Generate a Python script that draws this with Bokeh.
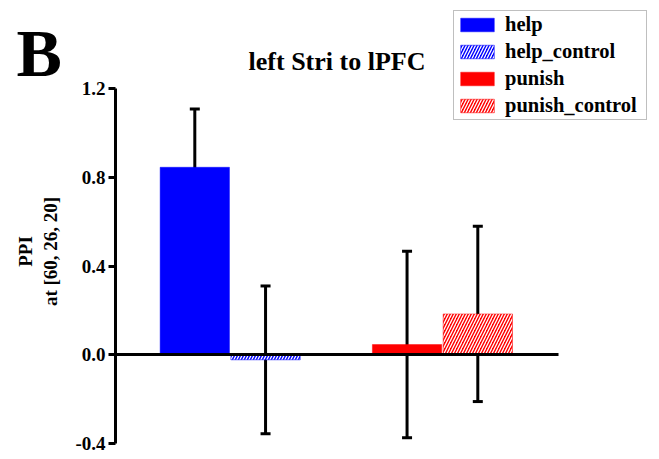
import math
from bokeh.plotting import figure
from bokeh.models import (ColumnDataSource, Whisker, TeeHead, Label, LinearAxis,
                          Range1d, FixedTicker, NumeralTickFormatter)
from bokeh.embed import file_html
from bokeh.resources import INLINE

# ---- data ----
categories = ["help", "help_control", "punish", "punish_control"]
group_index = [0, 0, 1, 1]
member_index = [0, 1, 0, 1]
values = [0.845, -0.023, 0.046, 0.184]
errors = [0.263, 0.333, 0.420, 0.395]
colors = ["#0000ff", "#0000ff", "#ff0000", "#ff0000"]
hatches = [" ", "/", " ", "/"]
y_ticks = [-0.4, 0.0, 0.4, 0.8, 1.2]
title_text = "left Stri to lPFC"
panel_letter = "B"
y_label_lines = ["PPI", "at [60, 26, 20]"]

FONT = "Liberation Serif"

xpos = [3 * g + m + 0.5 for g, m in zip(group_index, member_index)]
upper = [v + e for v, e in zip(values, errors)]
lower = [v - e for v, e in zip(values, errors)]

src = ColumnDataSource(dict(x=xpos, top=values, cat=categories, color=colors,
                            hatch=hatches, upper=upper, lower=lower))

W, H = 651, 459
AX_LEFT, AX_RIGHT = -0.6208, 5.6406

p = figure(width=W, height=H, output_backend="svg", toolbar_location=None,
           x_range=Range1d(-2.2463, 6.9551), y_range=Range1d(-0.47211, 1.59662),
           x_axis_type=None, y_axis_type=None, min_border=0)
p.outline_line_color = None
p.grid.visible = False
p.background_fill_color = "white"
p.border_fill_color = "white"

p.vbar(x="x", top="top", bottom=0, width=0.98, source=src,
       fill_color="color", line_color="color", line_alpha=0.45, line_width=1,
       hatch_pattern="hatch", hatch_color="white", hatch_scale=6, hatch_weight=1.3,
       legend_field="cat")

# zero line as an x axis without ticks
xax = LinearAxis(fixed_location=0, bounds=(AX_LEFT, AX_RIGHT),
                 ticker=FixedTicker(ticks=[]), axis_line_width=3,
                 major_tick_line_color=None, minor_tick_line_color=None,
                 major_label_text_font_size="0px")
p.add_layout(xax, "below")

w = Whisker(source=src, base="x", upper="upper", lower="lower",
            line_color="black", line_width=3,
            upper_head=TeeHead(size=10, line_width=3, line_color="black"),
            lower_head=TeeHead(size=10, line_width=3, line_color="black"))
p.add_layout(w)

ax = LinearAxis(fixed_location=AX_LEFT, bounds=(y_ticks[0], y_ticks[-1]))
ax.ticker = FixedTicker(ticks=y_ticks)
ax.formatter = NumeralTickFormatter(format="0.0")
ax.minor_tick_line_color = None
ax.axis_line_width = 3
ax.major_tick_line_width = 3
ax.major_tick_in = 0
ax.major_tick_out = 7
ax.major_label_standoff = 3
ax.major_label_text_font = FONT
ax.major_label_text_font_style = "bold"
ax.major_label_text_font_size = "19px"
ax.major_label_text_color = "black"
p.add_layout(ax, "left")

# y axis title (two rotated lines)
for line_text, sx in zip(y_label_lines, [25, 50]):
    p.add_layout(Label(x=sx, y=H - 251, x_units="screen", y_units="screen",
                       text=line_text, angle=math.pi / 2, text_align="center",
                       text_baseline="middle", text_color="black",
                       text_font=FONT, text_font_style="bold", text_font_size="19px"))

p.add_layout(Label(x=336.5, y=H - 61, x_units="screen", y_units="screen",
                   text=title_text, text_align="center", text_baseline="alphabetic",
                   text_color="black",
                   text_font=FONT, text_font_style="bold", text_font_size="26px"))
p.add_layout(Label(x=16, y=H - 52, x_units="screen", y_units="screen",
                   text=panel_letter, text_align="left", text_baseline="alphabetic",
                   text_color="black",
                   text_font=FONT, text_font_style="bold", text_font_size="68px"))

lg = p.legend[0]
lg.location = (453, H - 120)
lg.border_line_color = "#808080"
lg.border_line_width = 1
lg.background_fill_alpha = 1
lg.label_text_font = FONT
lg.label_text_font_style = "bold"
lg.label_text_font_size = "20.5px"
lg.label_text_color = "black"
lg.label_width = 139
lg.glyph_width = 42
lg.glyph_height = 17
lg.label_standoff = 7
lg.spacing = 4
lg.padding = 2
lg.margin = 0

open("out.html", "w").write(file_html(p, INLINE))
